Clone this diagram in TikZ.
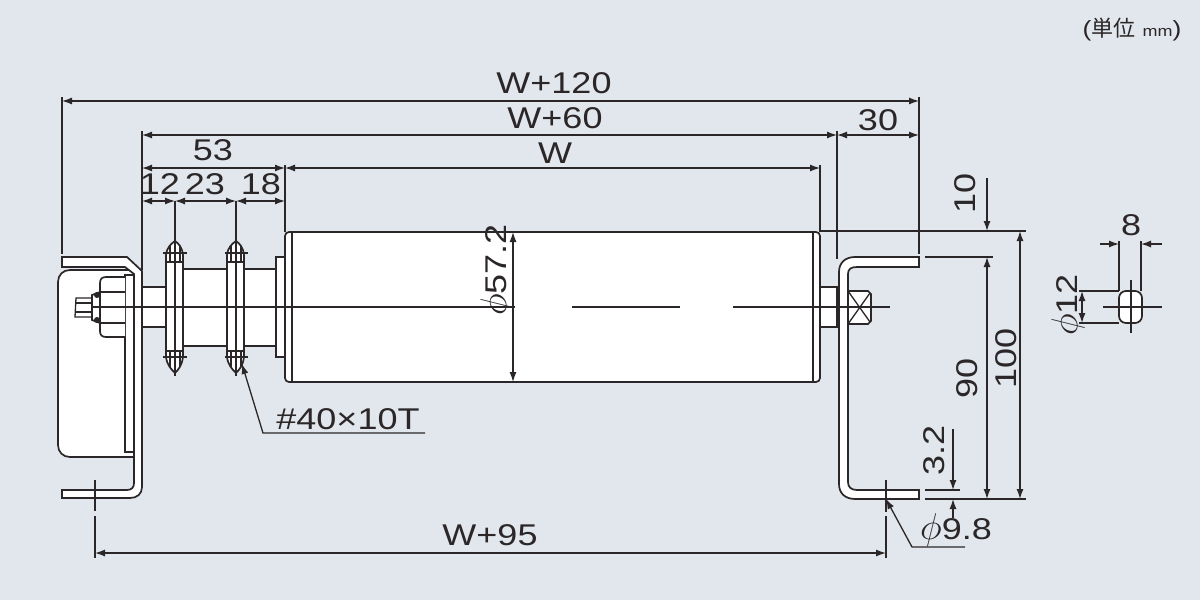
\documentclass[tikz,border=0pt]{standalone}
\usepackage{fontspec}
\setmainfont[FakeStretch=1.2]{Liberation Sans}
\newfontfamily\cjk{Noto Sans CJK JP}
\usetikzlibrary{arrows.meta}
\definecolor{PAPER}{HTML}{E1E7EC}
\definecolor{INK}{HTML}{2B2627}
\newcommand{\DIAM}{\scalebox{1.5}{$\phi$}}
\tikzset{
ARC/.style ={draw=INK,line join=miter,line cap=butt,line width=1.7pt},
THIN/.style ={draw=INK,line width=1.3pt},
SOLID/.style={ARC,fill=white},
DIM/.style ={draw=INK,line width=1.3pt,{Latex[length=10pt,width=7pt]}-{Latex[length=10pt,width=7pt]}},
DIMEND/.style ={draw=INK,line width=1.3pt,-{Latex[length=10pt,width=7pt]}},
LABEL/.style={text=INK,inner sep=0pt,font=\fontsize{30}{30}\selectfont},
}
\begin{document}
\begin{tikzpicture} [x=1pt,y=-1pt] %roller with brackets
	\useasboundingbox[fill=PAPER] (0,0) rectangle (1200,600);
	% left bracket
	\path[SOLID] (134,270) -- (134,457) -- (70,457) .. controls (63,457) and (58,452) .. (58,445) -- (58,282) .. controls (58,275) and (63,270) .. (70,270) -- cycle;
	\path[SOLID] (125,275) -- (134,275) -- (134,452) -- (125,452) -- cycle;
	\path[SOLID] (62,257) -- (127,257) -- (142,271) -- (142,487) .. controls (142,494) and (137,498) .. (130,498) -- (62,498) -- (62,490) -- (127,490) .. controls (132,490) and (134,487) .. (134,483) -- (134,274) -- (125,267) -- (62,267) -- cycle;
	\path[SOLID] (125,277) -- (106,277) .. controls (102,277) and (100,279) .. (100,283) -- (100,331) .. controls (100,335) and (102,337) .. (106,337) -- (125,337);
	\path[THIN] (100,292) -- (125,292);
	\path[THIN] (100,323) -- (125,323);
	\path[ARC] (100,292) -- (92,295) -- (92,320) -- (100,323);
	\path[fill=INK] (97,295) circle (3);
	\path[fill=INK] (97,320) circle (3);
	\path[THIN] (92,298) -- (76,298) -- (75,317) -- (92,317);
	\path[THIN] (76,303) -- (92,303);
	\path[THIN] (76,312) -- (92,312);
	% shaft and sprockets
	\path[SOLID] (142,287) rectangle (166,327);
	\path[SOLID] (183,269) rectangle (228,346);
	\path[SOLID] (244,269) rectangle (276,346);
	\path[SOLID] (276,257) rectangle (285,357);
	\path[SOLID] (166,255) .. controls (167,247) and (171,244) .. (175,241) .. controls (179,244) and (182,247) .. (183,255) -- (183,357) .. controls (182,365) and (179,369) .. (175,373) .. controls (171,369) and (167,365) .. (166,357) -- cycle;
	\path[SOLID] (227,255) .. controls (228,247) and (232,244) .. (236,241) .. controls (240,244) and (243,247) .. (244,255) -- (244,357) .. controls (243,365) and (240,369) .. (236,373) .. controls (232,369) and (228,365) .. (227,357) -- cycle;
	\path[THIN] (170,246) -- (170,262);
	\path[THIN] (180,246) -- (180,262);
	\path[THIN] (170,351) -- (170,367);
	\path[THIN] (180,351) -- (180,367);
	\path[THIN] (231,246) -- (231,262);
	\path[THIN] (241,246) -- (241,262);
	\path[THIN] (231,351) -- (231,367);
	\path[THIN] (241,351) -- (241,367);
	\path[THIN] (163,253) -- (187,253);
	\path[THIN] (166,262) -- (183,262);
	\path[THIN] (166,351) -- (183,351);
	\path[THIN] (163,357) -- (187,357);
	\path[THIN] (225,253) -- (248,253);
	\path[THIN] (227,262) -- (244,262);
	\path[THIN] (227,351) -- (244,351);
	\path[THIN] (225,357) -- (248,357);
	\path[THIN] (175,201) -- (175,376);
	\path[THIN] (236,201) -- (236,376);
	% roller
	\path[SOLID,rounded corners=4] (285,232) rectangle (820,382);
	\path[THIN] (292,232) -- (292,382);
	\path[THIN] (813,232) -- (813,382);
	% right bracket
	\path[SOLID] (820,287) rectangle (837,327);
	\path[SOLID] (848,291) -- (868,291) -- (871,294) -- (871,321) -- (868,324) -- (848,324) -- cycle;
	\path[THIN] (848,291) -- (870,322);
	\path[THIN] (848,324) -- (870,293);
	\path[SOLID] (919,257) -- (855,257) .. controls (845,257) and (839,263) .. (839,272) -- (839,484) .. controls (839,493) and (845,499) .. (855,499) -- (919,499) -- (919,490) -- (857,490) .. controls (851,490) and (848,487) .. (848,482) -- (848,274) .. controls (848,269) and (851,267) .. (857,267) -- (919,267) -- cycle;
	% centre lines
	\path[ARC,line width=1.4pt] (92,307) -- (515,307);
	\path[ARC,line width=1.4pt] (572,307) -- (680,307);
	\path[ARC,line width=1.4pt] (733,307) -- (890,307);
	% top dimensions
	\path[THIN] (62,97) -- (62,254);
	\path[THIN] (919,97) -- (919,254);
	\path[THIN] (142,131) -- (142,270);
	\path[THIN] (837,131) -- (837,259);
	\path[THIN] (285,165) -- (285,232);
	\path[THIN] (820,165) -- (820,232);
	\path[DIM] (62,101) -- (919,101);
	\path[DIM] (142,135) -- (837,135);
	\path[DIM] (837,135) -- (919,135);
	\path[DIM] (142,168) -- (285,168);
	\path[DIM] (285,168) -- (820,168);
	\path[DIM] (142,201) -- (175,201);
	\path[DIM] (175,201) -- (236,201);
	\path[DIM] (236,201) -- (285,201);
	\node[LABEL] (total) at (554,83) {W+120};
	\node[LABEL] (inner) at (555,118) {W+60};
	\node[LABEL] (thirty) at (878,120) {30};
	\node[LABEL] (fiftythree) at (213,150) {53};
	\node[LABEL] (width) at (555,153) {W};
	\node[LABEL] (twelve) at (160,184) {12};
	\node[LABEL] (twentythree) at (205,184) {23};
	\node[LABEL] (eighteen) at (261,184) {18};
	% roller diameter
	\path[DIM] (513,232) -- (513,382);
	\node[LABEL,rotate=90] (diameter) at (497,270) {\DIAM57.2};
	% right dimensions
	\path[THIN] (820,231) -- (1026,231);
	\path[THIN] (925,257) -- (993,257);
	\path[THIN] (925,499) -- (1026,499);
	\path[THIN] (925,490) -- (960,490);
	\path[DIMEND] (987,178) -- (987,231);
	\path[DIM] (987,257) -- (987,499);
	\path[DIM] (1020,231) -- (1020,499);
	\path[DIMEND] (953,429) -- (953,490);
	\path[DIMEND] (953,518) -- (953,499);
	\node[LABEL,rotate=90] (ten) at (965,193) {10};
	\node[LABEL,rotate=90] (ninety) at (967,378) {90};
	\node[LABEL,rotate=90] (hundred) at (1006,358) {100};
	\node[LABEL,rotate=90] (thickness) at (934,450) {3.2};
	% bottom dimensions
	\path[THIN] (95,480) -- (95,511);
	\path[THIN] (95,516) -- (95,558);
	\path[THIN] (886,480) -- (886,512);
	\path[THIN] (886,516) -- (886,558);
	\path[DIM] (95,553) -- (886,553);
	\node[LABEL] (span) at (490,535) {W+95};
	% hole and chain leaders
	\path[DIMEND] (965,547) -- (912,547) -- (886,499);
	\node[LABEL] (hole) at (956,530) {\DIAM9.8};
	\path[DIMEND] (425,433) -- (263,433) -- (242,364);
	\node[LABEL] (chain) at (348,419) {\#40×10T};
	% slot detail
	\path[SOLID,rounded corners=7] (1119,291) rectangle (1142,323);
	\path[THIN] (1103,307) -- (1162,307);
	\path[THIN] (1131,280) -- (1131,333);
	\path[THIN] (1119,241) -- (1119,291);
	\path[THIN] (1141,241) -- (1141,291);
	\path[THIN] (1079,291) -- (1119,291);
	\path[THIN] (1079,323) -- (1119,323);
	\path[DIMEND] (1100,244) -- (1119,244);
	\path[DIMEND] (1162,244) -- (1141,244);
	\path[DIM] (1082,291) -- (1082,323);
	\node[LABEL] (flat) at (1131,225) {8};
	\node[LABEL,rotate=90] (bore) at (1068,305) {\DIAM12};
	\node[LABEL,font=\fontsize{22}{22}\selectfont] (unit) at (1132,30) {({\cjk 単位} {\fontsize{15}{15}\selectfont mm})};
\end{tikzpicture}
\end{document}
